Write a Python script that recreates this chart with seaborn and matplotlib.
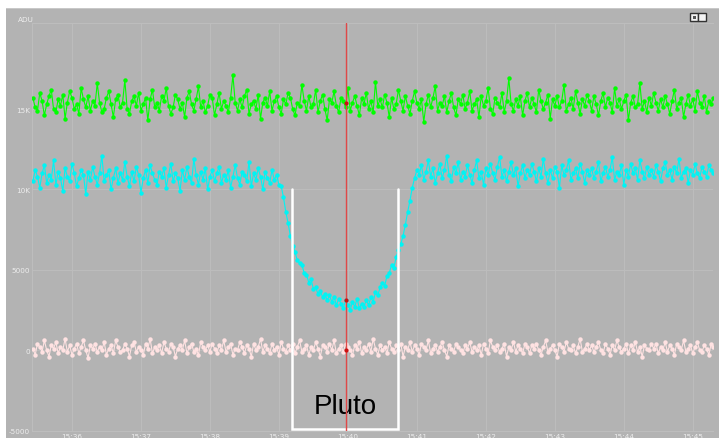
import matplotlib
matplotlib.use("Agg")
import matplotlib.pyplot as plt
import matplotlib.dates as mdates
from matplotlib.patches import Rectangle
import pandas as pd
import seaborn as sns

# ---- data (counts in hundreds of ADU, one sample every 2 s) ----
start_time = "2015-07-14 15:35:26"
cadence = "2s"

comparison_a = [  # green star
    157, 151, 149, 160, 155, 146, 153, 158, 162, 150, 148, 156, 152, 159, 144, 154, 161, 157, 150, 153, 147, 163, 156, 151, 158, 149, 155,
    152, 166, 154, 148, 150, 157, 161, 153, 145, 156, 159, 151, 154, 168, 150, 147, 155, 158, 152, 160, 149, 153, 157, 143, 156, 162, 151,
    154, 149, 158, 155, 163, 152, 147, 151, 159, 156, 150, 154, 145, 157, 161, 153, 149, 156, 164, 151, 155, 148, 152, 159, 157, 146, 153,
    160, 150, 155, 152, 148, 157, 171, 154, 149, 156, 151, 158, 162, 147, 153, 155, 150, 159, 144, 154, 157, 152, 161, 149, 155, 158, 151,
    147, 156, 153, 160, 157, 150, 146, 154, 152, 165, 155, 149, 158, 151, 153, 162, 148, 155, 159, 150, 143, 156, 154, 161, 152, 148, 157,
    155, 151, 163, 149, 154, 158, 152, 146, 157, 153, 160, 150, 155, 148, 167, 152, 156, 151, 159, 154, 145, 157, 150, 153, 162, 155, 149,
    158, 152, 147, 155, 161, 154, 150, 156, 142, 153, 159, 151, 157, 164, 149, 154, 152, 158, 148, 155, 160, 151, 146, 156, 153, 159, 150,
    154, 161, 149, 153, 156, 145, 158, 152, 155, 163, 150, 147, 157, 154, 151, 160, 148, 155, 169, 153, 149, 156, 152, 158, 146, 155, 160,
    151, 157, 153, 148, 162, 155, 150, 154, 159, 144, 156, 152, 158, 151, 155, 165, 149, 153, 157, 150, 161, 154, 147, 156, 152, 159, 155,
    149, 158, 153, 146, 155, 160, 151, 157, 154, 148, 163, 152, 156, 150, 155, 159, 143, 154, 158, 151, 153, 166, 150, 155, 148, 157, 152,
    160, 154, 149, 156, 151, 158, 153, 147, 155, 162, 150, 154, 157, 145, 153, 159, 152, 156, 149, 161, 154, 151, 158, 148, 155, 153, 157,
]

target = [  # occulted star (cyan)
    105, 112, 108, 101, 110, 115, 104, 109, 106, 118, 103, 111, 107, 99, 113, 108, 105, 116, 110, 102, 107, 112, 109, 97, 111, 106, 114,
    108, 103, 110, 121, 105, 109, 112, 100, 107, 113, 104, 110, 106, 117, 108, 102, 111, 105, 114, 109, 98, 107, 112, 104, 115, 110, 106,
    103, 111, 108, 113, 101, 109, 116, 105, 110, 107, 99, 112, 106, 114, 108, 104, 119, 109, 103, 111, 106, 113, 100, 108, 112, 105, 110,
    114, 104, 109, 106, 112, 101, 108, 115, 107, 103, 111, 109, 105, 117, 102, 110, 106, 113, 108, 100, 111, 107, 104, 112, 106, 109, 103,
    102, 95, 86, 79, 71, 65, 61, 56, 54, 53, 48, 47, 42, 44, 38, 39, 35, 37, 33, 35, 31, 34, 30, 33, 28, 32, 29,
    26, 31, 28, 25, 30, 27, 32, 26, 29, 27, 31, 28, 33, 30, 36, 34, 39, 42, 40, 46, 48, 53, 51, 58, 62, 66, 71,
    78, 86, 93, 101, 107, 112, 109, 115, 106, 111, 118, 108, 113, 104, 110, 116, 107, 112, 121, 109, 105, 114, 110, 117, 106, 111, 108,
    115, 109, 104, 112, 118, 107, 111, 103, 113, 109, 116, 110, 106, 114, 120, 108, 112, 105, 111, 117, 109, 113, 102, 110, 115, 107, 112,
    109, 116, 111, 105, 113, 108, 119, 110, 104, 112, 107, 114, 111, 101, 115, 109, 112, 118, 106, 110, 113, 107, 116, 111, 104, 112, 109,
    113, 107, 111, 117, 105, 110, 114, 108, 112, 120, 106, 111, 109, 115, 103, 112, 108, 116, 110, 113, 106, 118, 111, 107, 114, 109, 112,
    108, 115, 111, 105, 113, 117, 109, 112, 106, 114, 110, 119, 107, 111, 113, 104, 112, 109, 116, 110, 107, 114, 111, 108, 115, 112, 110,
]

sky = [  # background (pink)
    1, -3, 4, 2, -1, 6, 0, -4, 3, 1, 5, -2, 2, 0, 7, -1, 3, -3, 1, 4, -2, 2, 6, 0, -5, 3, 1,
    4, -1, 2, 0, 5, -3, 1, 3, -2, 6, 2, -1, 0, 4, 1, -4, 3, 5, -1, 2, 0, -3, 4, 1, 7, -2, 2,
    0, 3, -2, 5, 1, -1, 4, 2, -4, 1, 3, 0, 6, -2, 2, 4, -1, 1, -3, 5, 2, 0, 3, -1, 4, 1, -2,
    3, 0, 6, -1, 2, 4, -3, 1, 0, 5, 2, -2, 3, 1, -4, 4, 0, 2, 7, -1, 3, 1, -2, 4, 0, 2, -3,
    5, 1, -1, 3, 0, 4, -2, 2, 6, -1, 1, 3, -3, 2, 0, 5, 1, -4, 3, 2, -1, 4, 0, 6, -2, 1, 3,
    -1, 4, 2, 0, -3, 3, 1, 5, -2, 2, 0, 4, -1, 7, 1, -3, 3, 0, 2, -2, 5, 1, -1, 3, 0, 4, -4,
    2, 0, 5, -1, 3, 1, -3, 4, 2, 0, 6, -2, 1, 3, -1, 2, 5, 0, -4, 3, 1, -1, 4, 2, 0, -2, 3,
    1, 5, -1, 2, 0, 3, -3, 4, 1, -2, 6, 2, 0, 3, -1, 1, 4, -4, 2, 0, 5, -1, 3, 1, -2, 4, 2,
    -2, 3, 1, 4, 0, -3, 2, 6, -1, 1, 3, 0, -4, 4, 2, -1, 5, 1, 0, 3, -2, 2, 7, -1, 1, 4, 0,
    3, -1, 2, 5, 0, -2, 4, 1, -3, 3, 0, 6, 2, -1, 1, 4, -2, 3, 0, 5, -1, 2, -4, 3, 1, 0, 4,
    1, 4, -2, 2, 0, 5, -1, 3, 1, -3, 4, 2, 0, 6, -1, 1, 3, -2, 2, 5, 0, -1, 3, 1, -3, 4, 2,
]

series_names = ["comparison", "target", "sky"]
series_colors = ["#00ff00", "#00f4f4", "#ffe2e2"]

cursor_time = "2015-07-14 15:39:58"
cursor_values = [15400, 3100, 0]

event_start = "2015-07-14 15:39:11.6"
event_end = "2015-07-14 15:40:43.7"
event_top = 10000
event_bottom = -4880
event_label = "Pluto"

y_ticks = [-5000, 0, 5000, 10000, 15000]
y_tick_labels = ["-5000", "0", "5000", "10K", "15K"]
y_unit = "ADU"
x_min = "2015-07-14 15:35:25.5"
x_max = "2015-07-14 15:45:17.6"
y_min, y_max = -5000, 20350

# ---- build long-form table ----
times = pd.date_range(start_time, periods=len(target), freq=cadence)
frames = []
for name, vals in zip(series_names, [comparison_a, target, sky]):
    frames.append(pd.DataFrame({"time": times, "adu": [v * 100 for v in vals], "series": name}))
df = pd.concat(frames, ignore_index=True)

# ---- styling ----
PANEL = "#b3b3b3"
GRID = "#bdbdbd"
sns.set_style("whitegrid", {"axes.facecolor": PANEL, "grid.color": GRID,
                            "axes.edgecolor": GRID})
plt.rcParams["font.family"] = ["DejaVu Sans"]

W, H = 719, 439
fig = plt.figure(figsize=(W / 100, H / 100), dpi=100, facecolor="white")

# grey panel behind the chart
fig.add_artist(Rectangle((6 / W, 0), 1 - 6 / W, 1 - 9 / H, transform=fig.transFigure,
                         facecolor=PANEL, edgecolor="none", zorder=0))
fig.add_artist(Rectangle((6 / W, 1 - 10 / H), 1 - 6 / W, 1 / H, transform=fig.transFigure,
                         facecolor="#c8c8c8", edgecolor="none", zorder=0.5))

ax = fig.add_axes([32.3 / W, 7.5 / H, (713 - 32.3) / W, 407.5 / H])
ax.set_facecolor(PANEL)

palette = dict(zip(series_names, series_colors))
sns.lineplot(data=df, x="time", y="adu", hue="series", palette=palette,
             estimator=None, sort=False, legend=False, ax=ax,
             linewidth=0.8, marker="o", markersize=3.2, markeredgewidth=0, zorder=3)

# event bracket and label
t0, t1 = pd.Timestamp(event_start), pd.Timestamp(event_end)
ax.plot([t0, t0, t1, t1], [event_top, event_bottom, event_bottom, event_top],
        color="white", linewidth=1.8, zorder=4, solid_joinstyle="miter")
tc = pd.Timestamp(cursor_time)
ax.text(t0 + (t1 - t0) / 2, -3480, event_label, fontsize=20, color="black",
        ha="center", va="center", family=["Liberation Sans", "DejaVu Sans"], zorder=5)

# cursor line and its readouts
ax.axvline(tc, color="#e04848", linewidth=1.0, zorder=6)
sns.scatterplot(x=[tc] * len(cursor_values), y=cursor_values, color="#cc1010",
                s=9, linewidth=0, ax=ax, zorder=7)

# axes
ax.set_xlim(pd.Timestamp(x_min), pd.Timestamp(x_max))
ax.set_ylim(y_min, y_max)
ax.set_yticks(y_ticks)
ax.set_yticklabels(y_tick_labels)
ax.xaxis.set_major_locator(mdates.MinuteLocator())
ax.xaxis.set_major_formatter(mdates.DateFormatter("%H:%M"))
ax.tick_params(axis="both", length=0, labelsize=5.2, labelcolor="#ededed")
ax.tick_params(axis="y", pad=1.5)
ax.tick_params(axis="x", pad=1.5)
ax.grid(True, color=GRID, linewidth=0.7)
ax.set_xlabel("")
ax.set_ylabel("")
for side in ["left", "bottom", "top"]:
    ax.spines[side].set_color(GRID)
    ax.spines[side].set_linewidth(0.8)
ax.spines["right"].set_visible(False)

fig.text(18 / W, 1 - 20 / H, y_unit, fontsize=5.2, color="#ededed", va="center", ha="left")

# window buttons in the corner
for x0 in (690, 698):
    fig.add_artist(Rectangle((x0 / W, 1 - 22 / H), 8 / W, 8 / H, transform=fig.transFigure,
                             facecolor="#f4f4f4", edgecolor="#333333", linewidth=1.0, zorder=5))
fig.add_artist(Rectangle((692.5 / W, 1 - 19.5 / H), 3 / W, 3 / H, transform=fig.transFigure,
                         facecolor="#555555", edgecolor="none", zorder=6))

fig.savefig("out.png", dpi=100, facecolor="white")
